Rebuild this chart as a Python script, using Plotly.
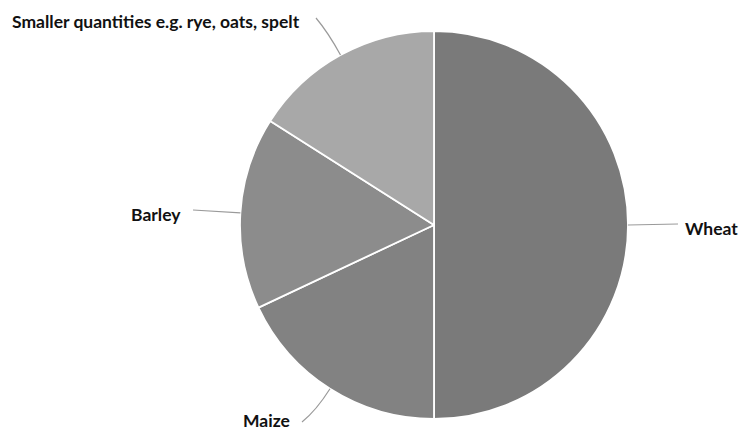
import math
import plotly.graph_objects as go

# ---- data ----
categories = ["Wheat", "Maize", "Barley", "Smaller quantities e.g. rye, oats, spelt"]
shares = [50, 18, 16, 16]
colors = ["#7a7a7a", "#828282", "#8c8c8c", "#a8a8a8"]

# ---- layout constants (pixels) ----
W, H = 740, 432
CX, CY, R = 434, 225, 194
FONT = dict(family="Lato, 'Open Sans', sans-serif", size=17.5, color="#111111")

# label placement: (end of leader line, text anchor point, xanchor, yanchor, curved?)
label_cfg = {
    "Wheat": dict(end=(678, 224), text=(739, 228), xanchor="right", yanchor="middle", curve=False),
    "Maize": dict(end=(302, 422), text=(291, 432), xanchor="right", yanchor="bottom", curve=True),
    "Barley": dict(end=(193, 210), text=(182, 214), xanchor="right", yanchor="middle", curve=False),
    "Smaller quantities e.g. rye, oats, spelt": dict(end=(316, 18), text=(301, 21), xanchor="right", yanchor="middle", curve=True),
}

fig = go.Figure()
fig.add_trace(go.Pie(
    labels=categories, values=shares, sort=False, direction="clockwise", rotation=0,
    marker=dict(colors=colors, line=dict(color="white", width=1.8)),
    textinfo="none", hoverinfo="label+percent", showlegend=False,
    domain=dict(x=[(CX - R) / W, (CX + R) / W], y=[(H - CY - R) / H, (H - CY + R) / H]),
))

shapes, annotations = [], []
total = sum(shares)
start = 0.0
for cat, v in zip(categories, shares):
    ang_r = math.radians(start + v / total * 180)
    start += v / total * 360
    dx, dy = math.sin(ang_r), -math.cos(ang_r)
    x0, y0 = CX + R * dx, CY + R * dy
    cfg = label_cfg[cat]
    x1, y1 = cfg["end"]
    if cfg["curve"]:
        qx, qy = CX + (R + 26) * dx, CY + (R + 26) * dy
        path = f"M {x0:.1f},{y0:.1f} Q {qx:.1f},{qy:.1f} {x1},{y1}"
    else:
        path = f"M {x0:.1f},{y0:.1f} L {x1},{y1}"
    shapes.append(dict(type="path", path=path, xref="x", yref="y",
                       line=dict(color="#9a9a9a", width=1.2)))
    annotations.append(dict(x=cfg["text"][0], y=cfg["text"][1], xref="x", yref="y",
                            text=f"<b>{cat}</b>", showarrow=False, borderpad=0,
                            xanchor=cfg["xanchor"], yanchor=cfg["yanchor"], font=FONT))

fig.update_layout(
    width=W, height=H, margin=dict(l=0, r=0, t=0, b=0),
    paper_bgcolor="white", plot_bgcolor="rgba(0,0,0,0)",
    xaxis=dict(range=[0, W], visible=False, fixedrange=True, domain=[0, 1]),
    yaxis=dict(range=[H, 0], visible=False, fixedrange=True, domain=[0, 1]),
    shapes=shapes, annotations=annotations,
)
fig.write_html("out.html")
